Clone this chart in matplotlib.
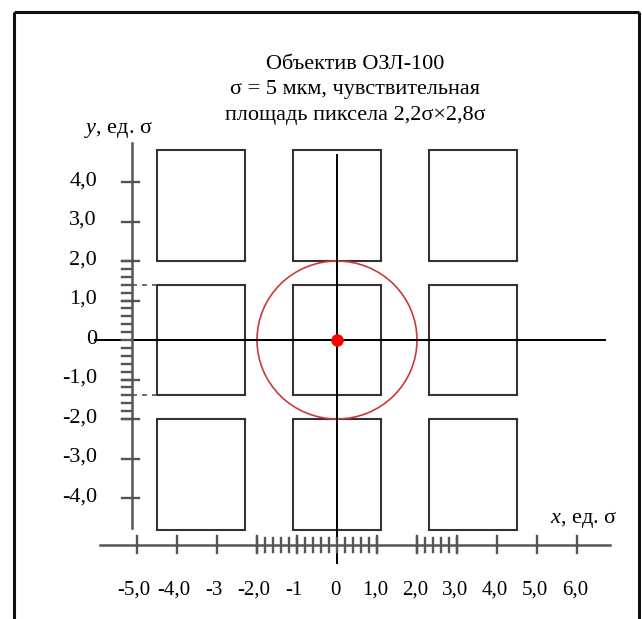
import numpy as np
import matplotlib
matplotlib.use("Agg")
import matplotlib.pyplot as plt
from matplotlib.patches import Rectangle, Circle

plt.rcParams["font.family"] = ["Liberation Serif", "DejaVu Serif"]
plt.rcParams["mathtext.fontset"] = "custom"
plt.rcParams["mathtext.rm"] = "Liberation Serif"
plt.rcParams["mathtext.it"] = "Liberation Serif:italic"

# sensor pixel grid, everything in units of sigma
pixel_cols = [-3.4, 0.0, 3.4]
pixel_rows = [-3.4, 0.0, 3.4]
pixel_w = 2.2
pixel_h = 2.8

spot_center = (0.0, 0.0)
spot_radius = 2.0

x_ticks = [-5, -4, -3, -2, -1, 0, 1, 2, 3, 4, 5, 6]
x_labels = ["-5,0", "-4,0", "-3", "-2,0", "-1", "0", "1,0", "2,0", "3,0", "4,0", "5,0", "6,0"]
y_ticks = [4, 3, 2, 1, 0, -1, -2, -3, -4]
y_labels = ["4,0", "3,0", "2,0", "1,0", "0", "-1,0", "-2,0", "-3,0", "-4,0"]
x_fine = [(-2.0, 1.0), (2.0, 3.0)]
y_fine = [(-2.0, 2.0)]
fine_step = 0.2

title_lines = ["Объектив ОЗЛ-100",
               "σ = 5 мкм, чувствительная",
               "площадь пиксела 2,2σ×2,8σ"]

W, H = 642, 619
SX, SY = 40.0, 39.5          # screen pixels per sigma
X0, Y0 = 337.0, 340.0        # where the origin sits on the canvas
px, py = 1 / SX, 1 / SY
FS = 16
TICK_FS = 15

fig = plt.figure(figsize=(W / 100, H / 100), dpi=100)
ax = fig.add_axes([0, 0, 1, 1])
ax.set_xlim(-X0 / SX, (W - X0) / SX)
ax.set_ylim(-(H - Y0) / SY, Y0 / SY)
ax.axis("off")

def cx(p):
    return (p - X0) / SX

def cy(p):
    return (Y0 - p) / SY

# outer frame
for xs, ys in [([14, 14], [H, 12]), ([14, 639], [12, 12]), ([639, 639], [12, H])]:
    ax.plot([cx(v) for v in xs], [cy(v) for v in ys], color="#111111", lw=2.2,
            solid_capstyle="butt")

# pixels
for xc in pixel_cols:
    for yc in pixel_rows:
        ax.add_patch(Rectangle((xc - pixel_w / 2, yc - pixel_h / 2), pixel_w, pixel_h,
                               fill=False, edgecolor="#333333", lw=1.5))

# scattering spot
ax.add_patch(Circle(spot_center, spot_radius, fill=False, edgecolor="#c83a3c", lw=1.2))

# central cross
ax.plot([cx(95), cx(605)], [0, 0], color="black", lw=1.4)
ax.plot([0, 0], [cy(155), cy(563)], color="black", lw=1.4)
ax.plot(*spot_center, "o", color="#ff0000", ms=9, mec="none", zorder=5)

axis_col = "#555555"

# y axis
yax = cx(132)
ax.plot([yax, yax], [cy(143), cy(528)], color=axis_col, lw=1.8)
for lo, hi in y_fine:
    for v in np.arange(lo, hi + 1e-9, fine_step):
        ax.plot([yax - 10 * px, yax], [v, v], color=axis_col, lw=1.7)
for v, lab in zip(y_ticks, y_labels):
    if v != 0:
        ax.plot([yax - 10 * px, yax + 7 * px], [v, v], color=axis_col, lw=1.7)
    ax.text(cx(97), v + 1 * py, lab, ha="right", va="center", fontsize=FS)

# pixel half-height markers
for v in [pixel_h / 2, -pixel_h / 2]:
    ax.plot([yax, pixel_cols[0] - pixel_w / 2], [v, v], color=axis_col, lw=1.2,
            ls=(0, (3, 3)))

# x axis
xay = cy(545)
ax.plot([cx(100), cx(610)], [xay, xay], color=axis_col, lw=1.8)
for lo, hi in x_fine:
    for v in np.arange(lo, hi + 1e-9, fine_step):
        ax.plot([v, v], [xay - 7 * py, xay + 7 * py], color=axis_col, lw=1.7)
for v, lab in zip(x_ticks, x_labels):
    if v != 0:
        ax.plot([v, v], [xay - 8 * py, xay + 9 * py], color=axis_col, lw=1.7)
    shift = -3 * px if lab.startswith("-") else -2 * px
    ax.text(v + shift, xay - 50 * py, lab, ha="center", va="baseline", fontsize=TICK_FS)

# axis names
ax.text(cx(84), cy(133), r"$y$, ед. σ", ha="left", va="baseline", fontsize=FS)
ax.text(cx(550), cy(523), r"$x$, ед. σ", ha="left", va="baseline", fontsize=FS)

# title
for line, base in zip(title_lines, [69, 94, 120]):
    ax.text(cx(355), cy(base), line, ha="center", va="baseline", fontsize=FS)

fig.savefig("out.png", dpi=100)
